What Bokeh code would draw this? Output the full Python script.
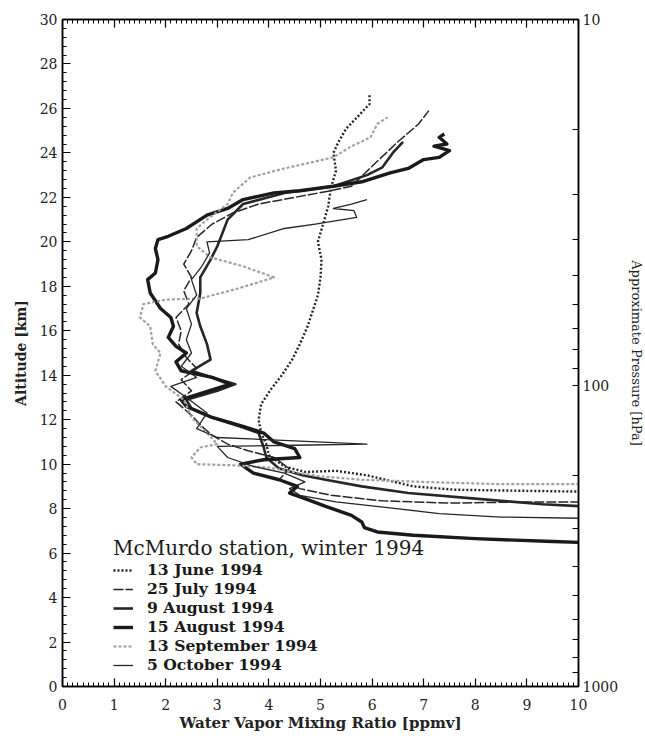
from bokeh.plotting import figure
from bokeh.models import (LinearAxis, Range1d, SingleIntervalTicker, FixedTicker,
                          Legend, LegendItem, CustomLabelingPolicy)
from bokeh.embed import file_html
from bokeh.resources import INLINE
import math

# ---------------- data (x = water vapour mixing ratio [ppmv], z = altitude [km]) -------------
jun_x = [10.5, 9.0, 7.6, 6.8, 5.9, 5.3, 4.7, 4.3, 4.0, 3.95, 3.85, 3.8, 3.85, 4.05, 4.25, 4.45,
         4.6, 4.75, 4.85, 4.95, 5.0, 5.02, 4.95, 5.05, 5.15, 5.2, 5.3, 5.25, 5.35, 5.5, 5.75, 5.95, 5.95]
jun_z = [8.75, 8.8, 8.85, 9.0, 9.5, 9.7, 9.65, 9.9, 10.4, 10.9, 11.4, 12.0, 12.7, 13.4, 14.0, 14.7,
         15.4, 16.2, 16.9, 17.6, 18.4, 19.2, 20.0, 20.8, 21.6, 22.4, 23.2, 24.0, 24.5, 25.1, 25.7, 26.2, 26.6]

jul_x = [10.5, 9.0, 7.5, 6.2, 5.2, 4.6, 4.2, 4.4, 4.1, 3.6, 3.2, 2.9, 2.7, 2.5, 2.2, 2.5, 2.3, 2.6,
         2.4, 2.25, 2.3, 2.2, 2.45, 2.35, 2.5, 2.35, 2.5, 2.6, 2.9, 3.3, 3.8, 4.5, 5.2, 5.6, 6.0, 6.5, 6.9, 7.1]
jul_z = [8.3, 8.3, 8.25, 8.35, 8.6, 8.9, 9.3, 9.8, 10.3, 10.6, 10.9, 11.3, 11.7, 12.2, 12.8, 13.3, 13.8, 14.3,
         14.8, 15.4, 16.0, 16.6, 17.2, 17.8, 18.4, 19.0, 19.6, 20.2, 20.8, 21.3, 21.7, 22.0, 22.3, 22.5, 23.4, 24.5, 25.3, 25.9]

aug9_x = [10.5, 9.3, 8.0, 6.7, 5.8, 5.1, 4.65, 4.2, 3.95, 3.9, 3.8, 3.5, 2.9, 2.5, 2.4, 3.0, 3.35, 2.9,
          2.5, 2.87, 2.8, 2.67, 2.6, 2.67, 2.67, 2.87, 3.0, 3.1, 3.2, 3.5, 4.3, 5.25, 5.9, 6.2, 6.4, 6.6]
aug9_z = [8.05, 8.2, 8.45, 8.7, 9.0, 9.3, 9.5, 9.8, 10.3, 10.75, 11.4, 11.65, 12.1, 12.5, 12.9, 13.3, 13.6, 13.9,
          14.2, 14.7, 15.4, 16.2, 16.8, 17.7, 18.4, 19.2, 19.8, 20.4, 21.0, 21.7, 22.2, 22.5, 23.0, 23.35, 24.0, 24.5]

aug15_x = [10.5, 9.5, 8.0, 6.8, 6.1, 5.85, 5.8, 5.6, 5.1, 4.7, 4.4, 4.55, 4.2, 3.7, 3.45, 3.9,
           4.6, 4.5, 4.1, 3.9, 3.5, 2.9, 2.4, 2.3, 2.7, 3.25, 2.9, 2.3, 2.2, 2.4, 2.2, 2.05, 2.15, 2.1,
           1.9, 1.7, 1.65, 1.8, 1.85, 1.8, 1.85, 2.05, 2.4, 2.8, 3.2, 3.5, 4.1, 4.6, 5.25, 5.8, 6.35,
           6.7, 7.0, 7.3, 7.5, 7.2, 7.45, 7.3, 7.4]
aug15_z = [6.45, 6.52, 6.65, 6.8, 6.95, 7.15, 7.4, 7.7, 8.1, 8.45, 8.7, 9.0, 9.3, 9.6, 10.0, 10.2,
           10.3, 10.7, 11.0, 11.4, 11.7, 12.1, 12.6, 12.9, 13.2, 13.6, 13.9, 14.2, 14.6, 15.0, 15.3, 15.7, 16.2, 16.6,
           17.0, 17.7, 18.3, 18.6, 19.2, 19.7, 20.1, 20.25, 20.6, 21.2, 21.5, 21.9, 22.2, 22.3, 22.5, 22.7, 23.1,
           23.3, 23.7, 23.8, 24.1, 24.3, 24.4, 24.7, 24.85]

sep_x = [10.5, 8.5, 7.0, 5.8, 5.0, 4.6, 4.0, 3.3, 2.6, 2.5, 2.67, 3.0, 2.8, 2.5, 2.35, 2.0, 1.8, 1.9,
         1.75, 1.7, 1.5, 1.57, 2.0, 2.67, 3.4, 4.1, 3.5, 2.87, 2.6, 2.6, 2.8, 3.2, 3.3, 3.64, 4.3, 5.25,
         5.6, 5.97, 6.1, 6.3]
sep_z = [9.1, 9.1, 9.2, 9.3, 9.45, 9.6, 9.85, 9.95, 10.0, 10.3, 10.75, 10.9, 11.4, 12.1, 12.9, 13.5, 14.2, 15.0,
         15.4, 16.2, 16.6, 17.2, 17.4, 17.45, 17.9, 18.4, 18.9, 19.3, 19.8, 20.6, 21.0, 21.7, 22.2, 22.9, 23.3, 23.8,
         24.3, 24.7, 25.3, 25.6]

oct_x = [10.5, 8.5, 7.3, 6.3, 5.3, 4.6, 4.4, 4.7, 4.3, 3.7, 3.2, 3.0, 4.5, 5.9, 4.5, 3.0, 2.6, 2.8, 2.4,
         2.1, 2.6, 2.3, 2.5, 2.4, 2.5, 2.4, 2.6, 2.5, 2.7, 2.85, 2.8, 3.6, 4.3, 4.9, 5.7, 5.65, 5.25, 5.6, 5.9]
oct_z = [7.55, 7.62, 7.78, 8.05, 8.3, 8.6, 8.9, 9.2, 9.6, 9.9, 10.3, 10.8, 10.85, 10.9, 11.05, 11.2, 11.6, 12.3, 13.0,
         13.5, 13.9, 14.4, 15.0, 15.6, 16.3, 17.0, 17.6, 18.3, 18.9, 19.5, 20.0, 20.1, 20.6, 20.8, 21.1, 21.4, 21.5, 21.7, 21.9]

series_labels = ["13 June 1994", "25 July 1994", "9 August 1994", "15 August 1994",
                 "13 September 1994", "5 October 1994"]
legend_title = "McMurdo station, winter 1994"

pressure_ticks = [10, 20, 30, 40, 50, 60, 70, 80, 90, 100, 200, 300, 400, 500, 600, 700, 800, 900, 1000]
pressure_labelled = [10, 100, 1000]

# approximate pressure -> altitude mapping used by the right-hand axis
Z100 = 13.55
def p_to_z(pr):
    if pr >= 100:
        return round(Z100 * (3 - math.log10(pr)), 4)
    return round(Z100 + (30 - Z100) * (2 - math.log10(pr)), 4)

SERIF = "DejaVu Serif"

p = figure(frame_width=516, frame_height=667, x_range=Range1d(0, 10), y_range=Range1d(0, 30),
           output_backend="svg", toolbar_location=None,
           min_border_left=62, min_border_right=59, min_border_top=19, min_border_bottom=40)
p.xgrid.visible = False
p.ygrid.visible = False
p.outline_line_color = "black"
p.outline_line_width = 1.5
p.background_fill_color = "white"
p.border_fill_color = "white"

def style_axis(ax):
    ax.axis_line_color = "black"
    ax.axis_line_width = 1.5
    ax.major_tick_line_color = "black"
    ax.minor_tick_line_color = "black"
    ax.major_tick_line_width = 1.2
    ax.minor_tick_line_width = 1
    ax.major_tick_out = 0
    ax.minor_tick_out = 0
    ax.major_label_text_font = SERIF
    ax.major_label_text_font_size = "14px"
    ax.major_label_text_color = "#222222"
    ax.axis_label_text_font = SERIF
    ax.axis_label_text_color = "#222222"

# bottom axis
xa = p.xaxis[0]
xa.ticker = SingleIntervalTicker(interval=1, num_minor_ticks=10)
style_axis(xa)
xa.major_tick_in = 8
xa.minor_tick_in = 4
xa.major_label_standoff = 12
xa.axis_label = "Water Vapor Mixing Ratio [ppmv]"
xa.axis_label_text_font_size = "15px"
xa.axis_label_text_font_style = "bold"
xa.axis_label_standoff = 1

# left axis
ya = p.yaxis[0]
ya.ticker = SingleIntervalTicker(interval=2, num_minor_ticks=5)
style_axis(ya)
ya.major_tick_in = 8
ya.minor_tick_in = 4
ya.major_label_standoff = 5
ya.axis_label = "Altitude [km]"
ya.axis_label_text_font_size = "14px"
ya.axis_label_text_font_style = "bold"
ya.axis_label_standoff = 8

# top axis (ticks only, no labels)
top = LinearAxis(ticker=SingleIntervalTicker(interval=1, num_minor_ticks=10),
                 major_label_policy=CustomLabelingPolicy(code="return new Set()"))
style_axis(top)
top.major_tick_in = 8
top.minor_tick_in = 4
top.major_label_standoff = 0
p.add_layout(top, "above")

# right axis: approximate pressure
maj = [p_to_z(v) for v in pressure_labelled]
mnr = [p_to_z(v) for v in pressure_ticks if v not in pressure_labelled]
right = LinearAxis(ticker=FixedTicker(ticks=maj, minor_ticks=mnr))
style_axis(right)
right.major_tick_in = 6
right.minor_tick_in = 6
right.major_label_standoff = 4
right.major_label_overrides = {p_to_z(v): str(v) for v in pressure_labelled}
right.axis_label = "Approximate Pressure [hPa]"
right.axis_label_text_font_size = "13px"
right.axis_label_text_font_style = "normal"
right.axis_label_standoff = 8
p.add_layout(right, "right")

DARK = "#262626"
GREY = "#a0a0a0"
r_jun = p.line(jun_x, jun_z, line_color=DARK, line_width=2.4, line_dash="2 2", line_join="round")
r_jul = p.line(jul_x, jul_z, line_color=DARK, line_width=1.5, line_dash="10 2", line_join="round")
r_a9 = p.line(aug9_x, aug9_z, line_color=DARK, line_width=2.6, line_join="round")
r_a15 = p.line(aug15_x, aug15_z, line_color="#1a1a1a", line_width=3.4, line_join="round")
r_sep = p.line(sep_x, sep_z, line_color=GREY, line_width=2.2, line_dash="3 2", line_join="round")
r_oct = p.line(oct_x, oct_z, line_color=DARK, line_width=1.3, line_join="round")

renderers = [r_jun, r_jul, r_a9, r_a15, r_sep, r_oct]
legend = Legend(items=[LegendItem(label=lab, renderers=[r]) for lab, r in zip(series_labels, renderers)],
                location=(51, 12), title=legend_title)
legend.title_text_font = SERIF
legend.title_text_font_size = "20px"
legend.title_text_font_style = "normal"
legend.title_text_color = "#1a1a1a"
legend.title_standoff = 0
legend.label_text_font = SERIF
legend.label_text_font_size = "15.6px"
legend.label_text_font_style = "bold"
legend.label_text_color = "#1a1a1a"
legend.glyph_width = 20
legend.glyph_height = 14
legend.label_height = 14
legend.label_standoff = 14
legend.spacing = 0
legend.padding = 0
legend.margin = 0
legend.border_line_alpha = 0
legend.background_fill_alpha = 0
p.add_layout(legend, "center")

open("out.html", "w").write(file_html(p, INLINE))
